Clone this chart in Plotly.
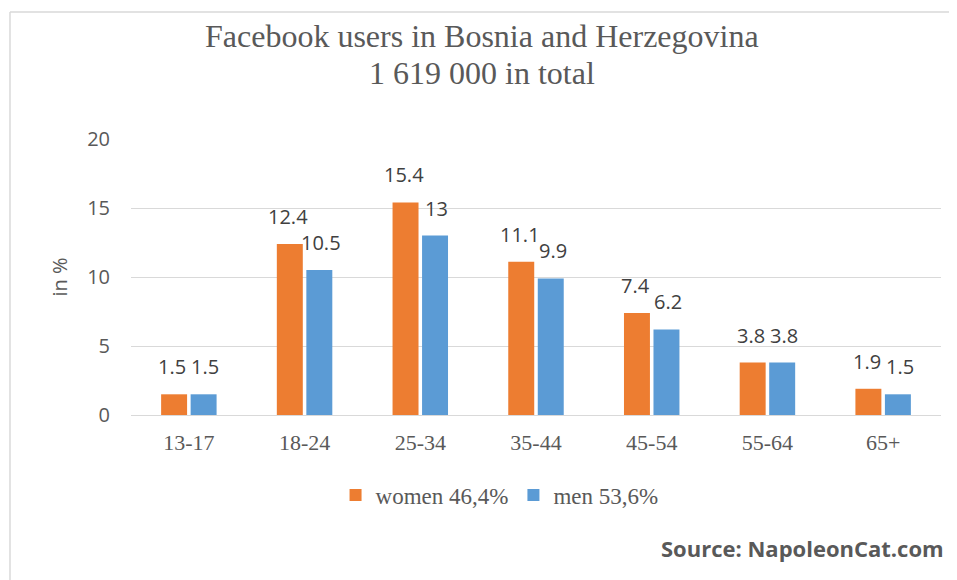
import plotly.graph_objects as go

age_groups = ["13-17", "18-24", "25-34", "35-44", "45-54", "55-64", "65+"]
women = [1.5, 12.4, 15.4, 11.1, 7.4, 3.8, 1.9]
men = [1.5, 10.5, 13.0, 9.9, 6.2, 3.8, 1.5]
series = [("women 46,4%", women, "#ED7D31"), ("men 53,6%", men, "#5B9BD5")]
title_lines = ["Facebook users in Bosnia and Herzegovina", "1 619 000 in total"]

SERIF = "Liberation Serif, Times New Roman, serif"
SANS = "Open Sans, Carlito, Calibri, sans-serif"
GREY = "#595959"

fig = go.Figure()
for name, vals, color in series:
    fig.add_trace(go.Bar(x=age_groups, y=vals, name=name, marker=dict(color=color, line=dict(width=0))))

# value labels above the bars (Excel-like gap above each bar)
notes = []
for shift, (name, vals, color) in zip([-16.5, 16.5], series):
    for cat, v in zip(age_groups, vals):
        notes.append(dict(
            x=cat, y=v, xref="x", yref="y", text=f"{v:g}",
            xshift=shift, yshift=12, yanchor="bottom", xanchor="center",
            showarrow=False, font=dict(family=SANS, size=20, color="#404040"),
        ))

# two-line title, lines placed separately for tighter spacing
for line, ypos in zip(title_lines, [1.372, 1.239]):
    notes.append(dict(
        text=line, xref="paper", yref="paper", x=0.433, y=ypos,
        xanchor="center", yanchor="middle", showarrow=False,
        font=dict(family=SERIF, size=32, color=GREY),
    ))

notes.append(dict(
    text="<b>Source: NapoleonCat.com</b>",
    xref="paper", yref="paper", x=1.006, y=-0.483,
    xanchor="right", yanchor="middle", showarrow=False,
    font=dict(family=SANS, size=22, color=GREY),
))

# only the left and top edges of the chart frame are visible
frame = dict(xref="paper", yref="paper", type="line", line=dict(color="#D9D9D9", width=1.5))

fig.update_layout(
    width=949,
    height=572,
    margin=dict(l=123, r=16, t=131, b=165),
    paper_bgcolor="white",
    plot_bgcolor="white",
    barmode="group",
    bargap=0.49,
    bargroupgap=0.12,
    xaxis=dict(
        tickfont=dict(family=SERIF, size=22, color=GREY),
        showline=False, ticks="", showgrid=False,
        ticklabelstandoff=12,
    ),
    yaxis=dict(
        range=[0, 20], dtick=5,
        tickfont=dict(family=SANS, size=20, color=GREY),
        gridcolor="#D9D9D9", gridwidth=1,
        zeroline=True, zerolinecolor="#D9D9D9", zerolinewidth=1,
        title=dict(text="in %", font=dict(family=SANS, size=20, color=GREY), standoff=14),
        ticklabelstandoff=20,
    ),
    showlegend=True,
    legend=dict(
        orientation="h", x=0.455, xanchor="center", y=-0.29, yanchor="middle",
        font=dict(family=SERIF, size=23, color=GREY),
        itemwidth=30,
    ),
    shapes=[
        dict(frame, x0=-0.1494, x1=-0.1494, y0=-0.7, y1=1.46),
        dict(frame, x0=-0.1494, x1=1.1, y0=1.46, y1=1.46),
    ],
    annotations=notes,
)

fig.write_html("out.html")
